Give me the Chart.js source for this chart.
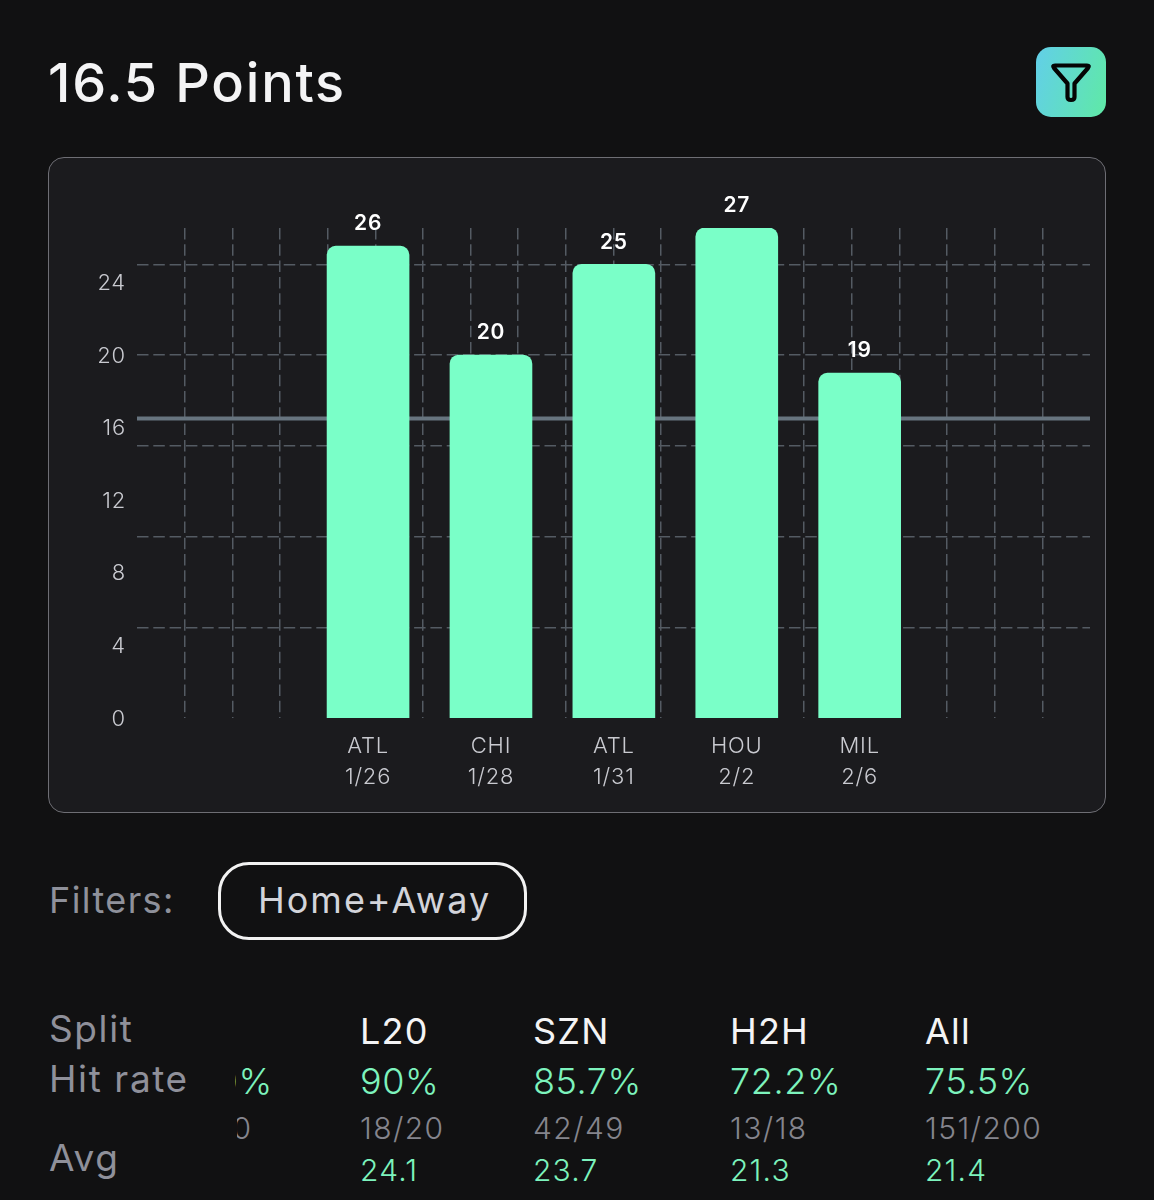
<!DOCTYPE html>
<html>
<head>
<meta charset="utf-8">
<title>16.5 Points</title>
<script src="https://cdn.jsdelivr.net/npm/chart.js@4"></script>
<style>
  html, body { margin: 0; background: #111112; }
  body { position: relative; width: 1154px; height: 1200px; overflow: hidden; font-family: Inter, "Noto Sans", sans-serif; }
  .t { position: absolute; white-space: nowrap; line-height: 1; transform: translateY(-50%); }
  #title { left: 48px; top: 83px; font-size: 54px; font-weight: 500; color: #f4f4f5; letter-spacing: 1.8px; }
  #icon { position: absolute; left: 1036px; top: 47px; width: 70px; height: 70px; border-radius: 15px; background: linear-gradient(105deg, #62cfe8, #5fe9a6); }
  #card { position: absolute; left: 48px; top: 157px; width: 1056px; height: 654px; border: 1px solid #6e6e74; border-radius: 16px; background: #1b1b1e; }
  #wrap { position: absolute; left: 48px; top: 157px; width: 1058px; height: 655px; }
  #filterLabel { left: 49px; top: 900px; font-size: 36px; color: #8f919b; letter-spacing: 1.4px; }
  #pill { position: absolute; left: 218px; top: 862px; width: 303px; height: 72px; border: 3px solid #f2f2f2; border-radius: 31px; }
  #pillText { left: 258px; top: 900px; font-size: 36px; color: #d3d4da; letter-spacing: 2px; }
  .clip { position: absolute; overflow: hidden; }
</style>
</head>
<body>
<div id="title" class="t">16.5 Points</div>
<div id="icon">
  <svg width="70" height="70" viewBox="0 0 70 70" fill="none" stroke="#050505" stroke-width="4.200" stroke-linejoin="round">
    <path d="M19 18.500H51Q54 18.500 52 21L38.500 36.500V50Q38.500 53 35 53Q31.500 53 31.500 50V36.500L18 21Q16 18.500 19 18.500Z"/>
  </svg>
</div>
<div id="card"></div>
<div id="wrap"><canvas id="pointsChart"></canvas></div>
<div id="filterLabel" class="t">Filters:</div>
<div id="pill"></div>
<div id="pillText" class="t">Home+Away</div>
<div id="table"></div>
<div class="clip" style="left:235px;top:1060px;width:40px;height:44px">
  <div class="t" style="top:21px;right:2px;font-size:36px;color:#7df3bd;font-weight:300;letter-spacing:.8px">90%</div>
</div>
<div class="clip" style="left:237px;top:1108px;width:18px;height:40px">
  <div class="t" style="top:20px;right:3px;font-size:30px;color:#85858d;font-weight:300;letter-spacing:1px">9/10</div>
</div>
<script>
const teams = ["ATL", "CHI", "ATL", "HOU", "MIL"];
const dates = ["1/26", "1/28", "1/31", "2/2", "2/6"];
const points = [26, 20, 25, 27, 19];
const propLine = 16.5;

const splitNames = ["L20", "SZN", "H2H", "All"];
const hitRates = ["90%", "85.7%", "72.2%", "75.5%"];
const hitCounts = ["18/20", "42/49", "13/18", "151/200"];
const averages = ["24.1", "23.7", "21.3", "21.4"];
const rowNames = ["Split", "Hit rate", "Avg"];

// bars sit on a numeric x axis so the empty space either side of them stays
const xMin = -1.88;
const xMax = 5.874;
const yMax = 27;

// stats table under the chart
const table = document.getElementById("table");
function addText(text, x, y, size, color, weight, spacing) {
  const el = document.createElement("div");
  el.className = "t";
  el.textContent = text;
  el.style.cssText = `left:${x}px;top:${y}px;font-size:${size}px;color:${color};font-weight:${weight};letter-spacing:${spacing}px`;
  table.appendChild(el);
}
[1028, 1078, 1157].forEach((y, i) => addText(rowNames[i], 49, y, 37, "#8f909a", 400, 1.6));
[360, 533, 730, 925].forEach((x, i) => {
  addText(splitNames[i], x, 1031, 36, "#f4f4f5", 400, 1.2);
  addText(hitRates[i], x, 1081, 36, "#7df3bd", 300, 0.6);
  addText(hitCounts[i], x, 1128, 30, "#85858d", 300, 1.4);
  addText(averages[i], x, 1170, 30, "#7df3bd", 300, 1.2);
});

// wider tracking for all canvas text
const canvasTracking = {
  id: "canvasTracking",
  beforeDraw(chart) { chart.ctx.letterSpacing = "0.8px"; }
};

// draws the score above each bar
const barValueLabels = {
  id: "barValueLabels",
  afterDatasetsDraw(chart) {
    const { ctx } = chart;
    ctx.save();
    ctx.font = "600 21px Inter";
    ctx.fillStyle = "#ffffff";
    ctx.textAlign = "center";
    ctx.textBaseline = "middle";
    chart.getDatasetMeta(0).data.forEach((bar, i) => {
      ctx.fillText(points[i], bar.x, bar.y - 22);
    });
    ctx.restore();
  }
};

const gridColor = "#545b63";
const gridDash = [11.5, 4.8];
const hideEnds = (first, last) => c =>
  c.tick.value === first || c.tick.value === last ? "transparent" : gridColor;

new Chart(document.getElementById("pointsChart"), {
  data: {
    datasets: [
      {
        type: "bar",
        data: points.map((p, i) => ({ x: i, y: p })),
        backgroundColor: "#7affc8",
        barThickness: 82,
        borderRadius: { topLeft: 9, topRight: 9, bottomLeft: 0, bottomRight: 0 },
        borderSkipped: false,
        order: 1
      },
      {
        type: "line",
        data: [{ x: xMin, y: propLine }, { x: xMax, y: propLine }],
        borderColor: "#67747f",
        borderWidth: 4,
        pointRadius: 0,
        order: 2
      }
    ]
  },
  options: {
    responsive: true,
    maintainAspectRatio: false,
    animation: false,
    layout: { padding: { left: 0, top: 71, right: 16, bottom: 0 } },
    plugins: { legend: { display: false }, tooltip: { enabled: false } },
    scales: {
      x: {
        type: "linear",
        offset: false,
        min: xMin,
        max: xMax,
        grid: { display: false },
        border: { display: false },
        afterBuildTicks: s => { s.ticks = teams.map((_, i) => ({ value: i })); },
        afterFit: s => { s.height = 94; },
        ticks: {
          autoSkip: false,
          maxRotation: 0,
          padding: 5,
          color: "#c9cad0",
          font: { family: "Inter", size: 22, weight: 300, lineHeight: "31px" },
          callback: v => [teams[v], dates[v]]
        }
      },
      xGrid: {
        type: "linear",
        position: "top",
        min: 0,
        max: 20,
        afterFit: s => { s.height = 0; },
        border: { display: false, dash: gridDash },
        grid: { color: hideEnds(0, 20), lineWidth: 1.5, drawTicks: false },
        ticks: { display: false, stepSize: 1, includeBounds: false }
      },
      y: {
        min: 0,
        max: yMax,
        afterFit: s => { s.width = 89; },
        grid: { display: false },
        border: { display: false },
        ticks: {
          stepSize: 4,
          includeBounds: false,
          padding: 3,
          labelOffset: 1,
          color: "#c9cad0",
          font: { family: "Inter", size: 22, weight: 300 }
        }
      },
      yGrid: {
        position: "right",
        min: 0,
        max: yMax,
        afterFit: s => { s.width = 0; },
        border: { display: false, dash: gridDash },
        grid: { color: hideEnds(0, yMax), lineWidth: 1.5, drawTicks: false },
        ticks: { display: false, stepSize: 5, includeBounds: false }
      }
    }
  },
  plugins: [canvasTracking, barValueLabels]
});
</script>
</body>
</html>
